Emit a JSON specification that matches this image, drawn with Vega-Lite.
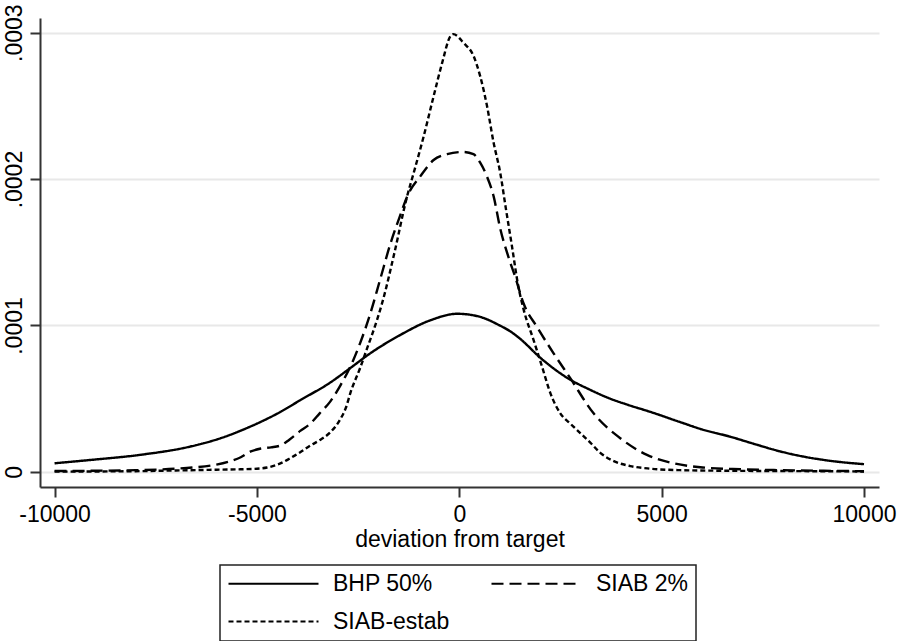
{
  "$schema": "https://vega.github.io/schema/vega-lite/v6.json",
  "width": 839,
  "height": 469,
  "autosize": {"type": "none"},
  "padding": {"left": 40, "top": 18, "right": 19, "bottom": 154},
  "background": "white",
  "config": {
    "view": {"stroke": null},
    "font": "Liberation Sans",
    "axis": {"labelFont": "Liberation Sans", "titleFont": "Liberation Sans", "labelColor": "black", "titleColor": "black"},
    "legend": {"labelFont": "Liberation Sans"}
  },
  "data": {
    "values": [
      {"series": "BHP 50%", "x": -10000, "density": 0.059e-4},
      {"series": "BHP 50%", "x": -9100, "density": 0.082e-4},
      {"series": "BHP 50%", "x": -7900, "density": 0.116e-4},
      {"series": "BHP 50%", "x": -6650, "density": 0.173e-4},
      {"series": "BHP 50%", "x": -5900, "density": 0.23e-4},
      {"series": "BHP 50%", "x": -5160, "density": 0.31e-4},
      {"series": "BHP 50%", "x": -4420, "density": 0.41e-4},
      {"series": "BHP 50%", "x": -3930, "density": 0.49e-4},
      {"series": "BHP 50%", "x": -3190, "density": 0.61e-4},
      {"series": "BHP 50%", "x": -2690, "density": 0.71e-4},
      {"series": "BHP 50%", "x": -2200, "density": 0.81e-4},
      {"series": "BHP 50%", "x": -1460, "density": 0.935e-4},
      {"series": "BHP 50%", "x": -720, "density": 1.035e-4},
      {"series": "BHP 50%", "x": -50, "density": 1.08e-4},
      {"series": "BHP 50%", "x": 500, "density": 1.06e-4},
      {"series": "BHP 50%", "x": 1000, "density": 1.0e-4},
      {"series": "BHP 50%", "x": 1260, "density": 0.96e-4},
      {"series": "BHP 50%", "x": 1500, "density": 0.91e-4},
      {"series": "BHP 50%", "x": 2000, "density": 0.78e-4},
      {"series": "BHP 50%", "x": 2740, "density": 0.63e-4},
      {"series": "BHP 50%", "x": 3200, "density": 0.565e-4},
      {"series": "BHP 50%", "x": 3730, "density": 0.5e-4},
      {"series": "BHP 50%", "x": 4200, "density": 0.455e-4},
      {"series": "BHP 50%", "x": 4720, "density": 0.41e-4},
      {"series": "BHP 50%", "x": 5460, "density": 0.34e-4},
      {"series": "BHP 50%", "x": 6000, "density": 0.29e-4},
      {"series": "BHP 50%", "x": 6700, "density": 0.24e-4},
      {"series": "BHP 50%", "x": 7300, "density": 0.19e-4},
      {"series": "BHP 50%", "x": 7930, "density": 0.14e-4},
      {"series": "BHP 50%", "x": 8500, "density": 0.105e-4},
      {"series": "BHP 50%", "x": 9000, "density": 0.082e-4},
      {"series": "BHP 50%", "x": 9500, "density": 0.065e-4},
      {"series": "BHP 50%", "x": 10000, "density": 0.053e-4},

      {"series": "SIAB 2%", "x": -10000, "density": 0.006e-4},
      {"series": "SIAB 2%", "x": -9000, "density": 0.008e-4},
      {"series": "SIAB 2%", "x": -8000, "density": 0.012e-4},
      {"series": "SIAB 2%", "x": -7000, "density": 0.022e-4},
      {"series": "SIAB 2%", "x": -6600, "density": 0.03e-4},
      {"series": "SIAB 2%", "x": -6000, "density": 0.05e-4},
      {"series": "SIAB 2%", "x": -5700, "density": 0.07e-4},
      {"series": "SIAB 2%", "x": -5400, "density": 0.1e-4},
      {"series": "SIAB 2%", "x": -5150, "density": 0.14e-4},
      {"series": "SIAB 2%", "x": -4900, "density": 0.16e-4},
      {"series": "SIAB 2%", "x": -4650, "density": 0.168e-4},
      {"series": "SIAB 2%", "x": -4420, "density": 0.18e-4},
      {"series": "SIAB 2%", "x": -4200, "density": 0.22e-4},
      {"series": "SIAB 2%", "x": -3930, "density": 0.28e-4},
      {"series": "SIAB 2%", "x": -3680, "density": 0.33e-4},
      {"series": "SIAB 2%", "x": -3450, "density": 0.4e-4},
      {"series": "SIAB 2%", "x": -3190, "density": 0.48e-4},
      {"series": "SIAB 2%", "x": -2940, "density": 0.59e-4},
      {"series": "SIAB 2%", "x": -2690, "density": 0.72e-4},
      {"series": "SIAB 2%", "x": -2450, "density": 0.88e-4},
      {"series": "SIAB 2%", "x": -2200, "density": 1.08e-4},
      {"series": "SIAB 2%", "x": -1950, "density": 1.32e-4},
      {"series": "SIAB 2%", "x": -1700, "density": 1.56e-4},
      {"series": "SIAB 2%", "x": -1450, "density": 1.76e-4},
      {"series": "SIAB 2%", "x": -1290, "density": 1.88e-4},
      {"series": "SIAB 2%", "x": -960, "density": 2.02e-4},
      {"series": "SIAB 2%", "x": -635, "density": 2.13e-4},
      {"series": "SIAB 2%", "x": -300, "density": 2.17e-4},
      {"series": "SIAB 2%", "x": 100, "density": 2.185e-4},
      {"series": "SIAB 2%", "x": 350, "density": 2.17e-4},
      {"series": "SIAB 2%", "x": 520, "density": 2.11e-4},
      {"series": "SIAB 2%", "x": 680, "density": 2.02e-4},
      {"series": "SIAB 2%", "x": 850, "density": 1.88e-4},
      {"series": "SIAB 2%", "x": 1013, "density": 1.66e-4},
      {"series": "SIAB 2%", "x": 1200, "density": 1.48e-4},
      {"series": "SIAB 2%", "x": 1384, "density": 1.33e-4},
      {"series": "SIAB 2%", "x": 1589, "density": 1.15e-4},
      {"series": "SIAB 2%", "x": 1920, "density": 0.99e-4},
      {"series": "SIAB 2%", "x": 2330, "density": 0.81e-4},
      {"series": "SIAB 2%", "x": 2742, "density": 0.64e-4},
      {"series": "SIAB 2%", "x": 3318, "density": 0.4e-4},
      {"series": "SIAB 2%", "x": 3978, "density": 0.23e-4},
      {"series": "SIAB 2%", "x": 4637, "density": 0.116e-4},
      {"series": "SIAB 2%", "x": 5295, "density": 0.059e-4},
      {"series": "SIAB 2%", "x": 5955, "density": 0.032e-4},
      {"series": "SIAB 2%", "x": 6943, "density": 0.018e-4},
      {"series": "SIAB 2%", "x": 7931, "density": 0.012e-4},
      {"series": "SIAB 2%", "x": 9000, "density": 0.008e-4},
      {"series": "SIAB 2%", "x": 10000, "density": 0.005e-4},

      {"series": "SIAB-estab", "x": -10000, "density": 0.002e-4},
      {"series": "SIAB-estab", "x": -9000, "density": 0.003e-4},
      {"series": "SIAB-estab", "x": -8000, "density": 0.005e-4},
      {"series": "SIAB-estab", "x": -7000, "density": 0.01e-4},
      {"series": "SIAB-estab", "x": -6000, "density": 0.015e-4},
      {"series": "SIAB-estab", "x": -5400, "density": 0.018e-4},
      {"series": "SIAB-estab", "x": -5000, "density": 0.022e-4},
      {"series": "SIAB-estab", "x": -4750, "density": 0.03e-4},
      {"series": "SIAB-estab", "x": -4420, "density": 0.058e-4},
      {"series": "SIAB-estab", "x": -4200, "density": 0.09e-4},
      {"series": "SIAB-estab", "x": -3930, "density": 0.135e-4},
      {"series": "SIAB-estab", "x": -3680, "density": 0.18e-4},
      {"series": "SIAB-estab", "x": -3430, "density": 0.22e-4},
      {"series": "SIAB-estab", "x": -3190, "density": 0.27e-4},
      {"series": "SIAB-estab", "x": -2940, "density": 0.36e-4},
      {"series": "SIAB-estab", "x": -2800, "density": 0.44e-4},
      {"series": "SIAB-estab", "x": -2690, "density": 0.54e-4},
      {"series": "SIAB-estab", "x": -2450, "density": 0.71e-4},
      {"series": "SIAB-estab", "x": -2270, "density": 0.85e-4},
      {"series": "SIAB-estab", "x": -2030, "density": 1.04e-4},
      {"series": "SIAB-estab", "x": -1880, "density": 1.18e-4},
      {"series": "SIAB-estab", "x": -1600, "density": 1.5e-4},
      {"series": "SIAB-estab", "x": -1292, "density": 1.88e-4},
      {"series": "SIAB-estab", "x": -1129, "density": 2.04e-4},
      {"series": "SIAB-estab", "x": -882, "density": 2.29e-4},
      {"series": "SIAB-estab", "x": -635, "density": 2.565e-4},
      {"series": "SIAB-estab", "x": -427, "density": 2.79e-4},
      {"series": "SIAB-estab", "x": -222, "density": 2.975e-4},
      {"series": "SIAB-estab", "x": -150, "density": 2.99e-4},
      {"series": "SIAB-estab", "x": 106, "density": 2.93e-4},
      {"series": "SIAB-estab", "x": 353, "density": 2.84e-4},
      {"series": "SIAB-estab", "x": 519, "density": 2.7e-4},
      {"series": "SIAB-estab", "x": 684, "density": 2.5e-4},
      {"series": "SIAB-estab", "x": 847, "density": 2.25e-4},
      {"series": "SIAB-estab", "x": 1013, "density": 2.04e-4},
      {"series": "SIAB-estab", "x": 1150, "density": 1.8e-4},
      {"series": "SIAB-estab", "x": 1302, "density": 1.54e-4},
      {"series": "SIAB-estab", "x": 1450, "density": 1.28e-4},
      {"series": "SIAB-estab", "x": 1589, "density": 1.11e-4},
      {"series": "SIAB-estab", "x": 1836, "density": 0.9e-4},
      {"series": "SIAB-estab", "x": 2043, "density": 0.72e-4},
      {"series": "SIAB-estab", "x": 2248, "density": 0.54e-4},
      {"series": "SIAB-estab", "x": 2495, "density": 0.4e-4},
      {"series": "SIAB-estab", "x": 2742, "density": 0.33e-4},
      {"series": "SIAB-estab", "x": 2989, "density": 0.265e-4},
      {"series": "SIAB-estab", "x": 3237, "density": 0.2e-4},
      {"series": "SIAB-estab", "x": 3484, "density": 0.13e-4},
      {"series": "SIAB-estab", "x": 3805, "density": 0.075e-4},
      {"series": "SIAB-estab", "x": 4225, "density": 0.04e-4},
      {"series": "SIAB-estab", "x": 4720, "density": 0.022e-4},
      {"series": "SIAB-estab", "x": 5460, "density": 0.012e-4},
      {"series": "SIAB-estab", "x": 6500, "density": 0.008e-4},
      {"series": "SIAB-estab", "x": 7931, "density": 0.006e-4},
      {"series": "SIAB-estab", "x": 10000, "density": 0.003e-4}
    ]
  },
  "mark": {"type": "line", "color": "black", "strokeWidth": 2.4, "interpolate": "monotone", "clip": true},
  "encoding": {
    "x": {
      "field": "x",
      "type": "quantitative",
      "scale": {"domain": [-10360, 10370], "nice": false, "zero": false},
      "axis": {
        "values": [-10000, -5000, 0, 5000, 10000],
        "labelExpr": "'' + datum.value",
        "grid": false,
        "title": "deviation from target",
        "titleFontSize": 23,
        "titleFontWeight": "normal",
        "titlePadding": 2,
        "labelFontSize": 23,
        "labelPadding": 6,
        "tickSize": 10,
        "tickWidth": 2,
        "tickColor": "#333333",
        "domainColor": "#333333",
        "domainWidth": 2,
        "labelFlush": false,
        "labelOverlap": false
      }
    },
    "y": {
      "field": "density",
      "type": "quantitative",
      "scale": {"domain": [-0.0000103, 0.00031], "nice": false, "zero": false},
      "axis": {
        "values": [0, 0.0001, 0.0002, 0.0003],
        "labelExpr": "datum.value == 0 ? '0' : replace(format(datum.value, '.4f'), '0.', '.')",
        "title": null,
        "grid": true,
        "gridColor": "#e8e8e8",
        "gridWidth": 2,
        "labelFontSize": 23,
        "labelAngle": -90,
        "labelAlign": "center",
        "labelBaseline": "bottom",
        "labelPadding": 4,
        "tickSize": 10,
        "tickWidth": 2,
        "tickColor": "#333333",
        "domainColor": "#333333",
        "domainWidth": 2,
        "labelFlush": false,
        "labelOverlap": false
      }
    },
    "strokeDash": {
      "field": "series",
      "type": "nominal",
      "scale": {"domain": ["BHP 50%", "SIAB 2%", "SIAB-estab"], "range": [[1, 0], [12, 6], [5, 3]]},
      "legend": {
        "title": null,
        "orient": "none",
        "legendX": 180,
        "legendY": 547,
        "columns": 2,
        "direction": "horizontal",
        "symbolType": "M-2,0L16,0",
        "symbolSize": 100,
        "symbolStrokeWidth": 2,
        "symbolStrokeColor": "black",
        "symbolFillColor": "transparent",
        "labelFontSize": 23,
        "labelColor": "black",
        "labelOffset": 83,
        "columnPadding": 37,
        "rowPadding": 14,
        "padding": 7,
        "strokeColor": "#222222",
        "fillColor": "white",
        "encode": {"legend": {"update": {"strokeWidth": {"value": 1.5}}}}
      }
    }
  }
}
